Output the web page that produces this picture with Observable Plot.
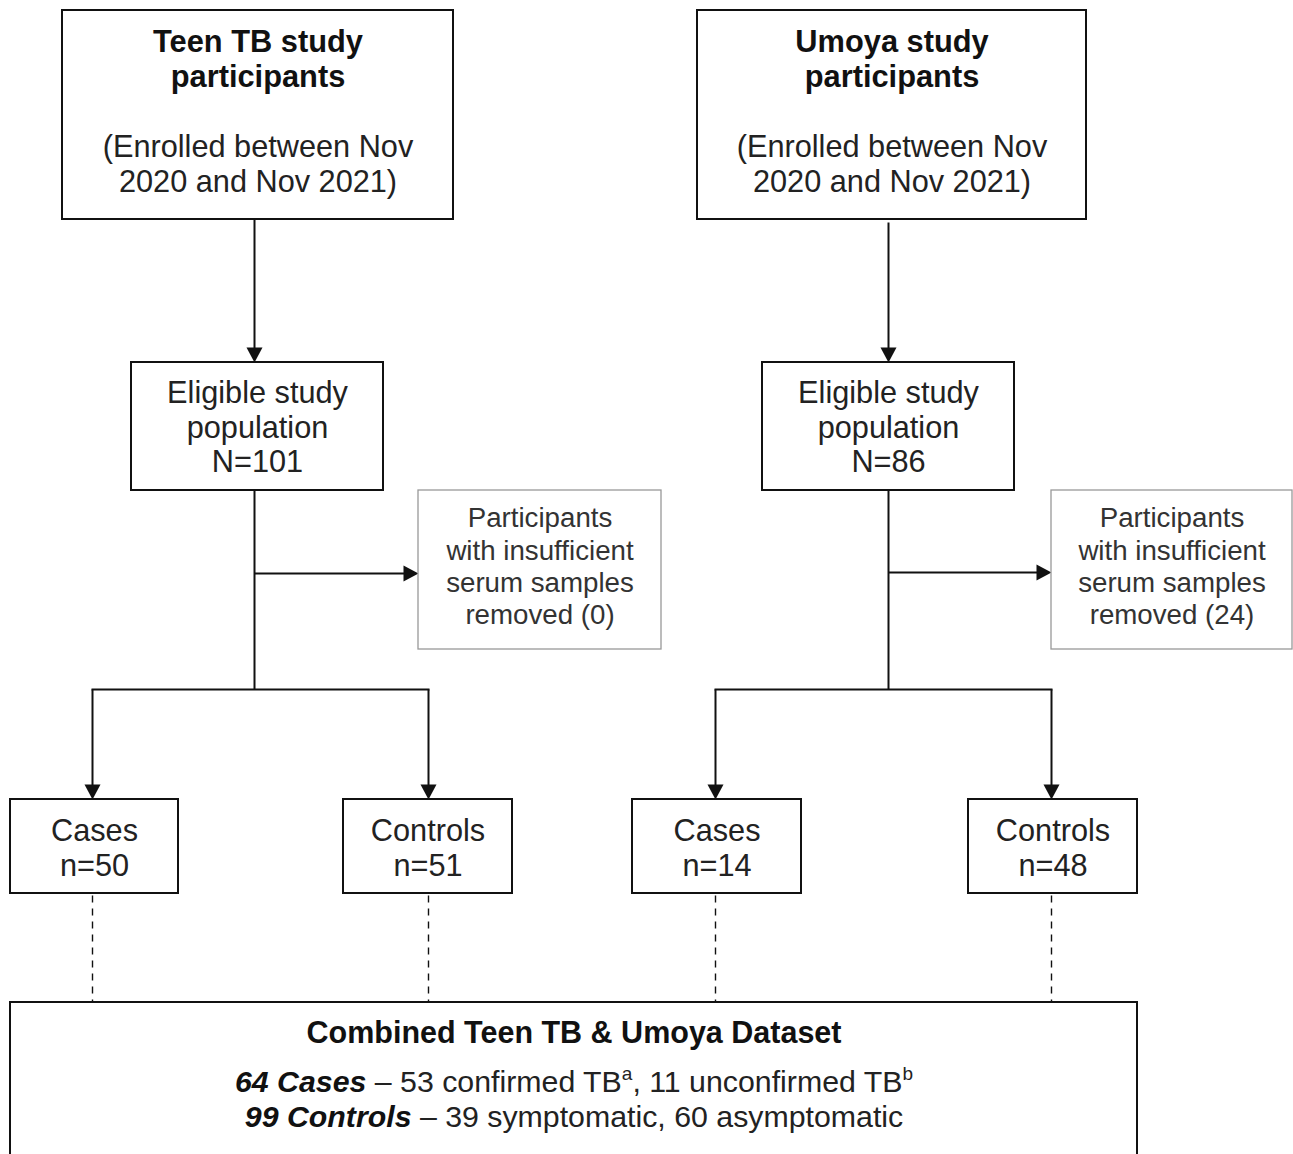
<!DOCTYPE html>
<html><head><meta charset="utf-8">
<script src="https://cdn.jsdelivr.net/npm/d3@7"></script>
<script src="https://cdn.jsdelivr.net/npm/@observablehq/plot@0.6"></script>
<style>body{margin:0;background:#fff} #chart svg{overflow:hidden;display:block}</style>
</head><body><div id="chart"></div>
<script>
// ---------------- data ----------------
const studies = ["Teen TB", "Umoya"];
const enrolledLines = ["(Enrolled between Nov", "2020 and Nov 2021)"];
const eligibleN = [101, 86];
const removedN = [0, 24];
const groupLabels = ["Cases", "Controls"];
const casesN = [50, 14];
const controlsN = [51, 48];
const combinedTitle = "Combined Teen TB & Umoya Dataset";
const combinedCases = 64, confirmedTB = 53, unconfirmedTB = 11;
const combinedControls = 99, symptomaticN = 39, asymptomaticN = 60;

// ---------------- layout ----------------
const W = 1293, H = 1154;
const stem = [254, 888];                       // trunk x per study
const topBox = [[62, 453], [697, 1086]], topY = [10, 219], topStart = [219, 222];
const eligBox = [[131, 383], [762, 1014]], eligY = [362, 490];
const exclBox = [[418, 661], [1051, 1292]], exclY = [490, 649];
const branchY = [573, 572];
const splitY = 689;
const childX = [[92, 428], [715, 1051]];        // cases, controls arrow x per study
const childBox = [[[10, 178], [343, 512]], [[632, 801], [968, 1137]]];
const childY = [799, 893];
const combBox = [10, 1137], combY = [1002, 1170];
const AH = 15, AW = 8;                          // arrowhead length / half-width

// ---------------- derived tables ----------------
const boxes = [], grayBoxes = [], links = [], dashes = [], heads = [];
const boldText = [], regText = [], grayText = [];
let hid = 0;
const down = (x, ty) => { hid++; heads.push({id: hid, x: x - AW, y: ty - AH}, {id: hid, x: x + AW, y: ty - AH}, {id: hid, x, y: ty}); };
const right = (tx, y) => { hid++; heads.push({id: hid, x: tx - AH, y: y - AW}, {id: hid, x: tx - AH, y: y + AW}, {id: hid, x: tx, y}); };

studies.forEach((s, i) => {
  boxes.push({x1: topBox[i][0], x2: topBox[i][1], y1: topY[0], y2: topY[1]});
  const tc = (topBox[i][0] + topBox[i][1]) / 2;
  boldText.push({x: tc, y: 42, t: `${s} study`}, {x: tc, y: 77, t: "participants"});
  regText.push({x: tc, y: 147, t: enrolledLines[0]}, {x: tc, y: 182, t: enrolledLines[1]});

  links.push({x1: stem[i], y1: topStart[i], x2: stem[i], y2: eligY[0] - 6});
  down(stem[i], eligY[0]);

  boxes.push({x1: eligBox[i][0], x2: eligBox[i][1], y1: eligY[0], y2: eligY[1]});
  const ec = (eligBox[i][0] + eligBox[i][1]) / 2;
  regText.push({x: ec, y: 393, t: "Eligible study"}, {x: ec, y: 428, t: "population"}, {x: ec, y: 462, t: `N=${eligibleN[i]}`});

  links.push({x1: stem[i], y1: eligY[1], x2: stem[i], y2: splitY});
  links.push({x1: stem[i], y1: branchY[i], x2: exclBox[i][0] - 6, y2: branchY[i]});
  right(exclBox[i][0], branchY[i]);

  grayBoxes.push({x1: exclBox[i][0], x2: exclBox[i][1], y1: exclY[0], y2: exclY[1]});
  const xc = (exclBox[i][0] + exclBox[i][1]) / 2;
  ["Participants", "with insufficient", "serum samples", `removed (${removedN[i]})`]
    .forEach((t, k) => grayText.push({x: xc, y: 518 + 32.3 * k, t}));

  links.push({x1: childX[i][0] - 1, y1: splitY, x2: childX[i][1] + 1, y2: splitY});
  const ns = [casesN[i], controlsN[i]];
  childX[i].forEach((cx, j) => {
    links.push({x1: cx, y1: splitY, x2: cx, y2: childY[0] - 6});
    down(cx, childY[0]);
    const b = childBox[i][j];
    boxes.push({x1: b[0], x2: b[1], y1: childY[0], y2: childY[1]});
    const bc = (b[0] + b[1]) / 2;
    regText.push({x: bc, y: 831, t: groupLabels[j]}, {x: bc, y: 866, t: `n=${ns[j]}`});
    dashes.push({x1: cx, y1: childY[1] + 2, x2: cx, y2: combY[0]});
  });
});
boxes.push({x1: combBox[0], x2: combBox[1], y1: combY[0], y2: combY[1]});
const combX = (combBox[0] + combBox[1]) / 2;
boldText.push({x: combX, y: 1033, t: combinedTitle, size: 30.5});

const richLines = [
  {x: combX, y: 1082, segs: [{t: `${combinedCases} Cases`, b: true}, {t: ` – ${confirmedTB} confirmed TB`}, {t: "a", sup: true}, {t: `, ${unconfirmedTB} unconfirmed TB`}, {t: "b", sup: true}]},
  {x: combX, y: 1117, segs: [{t: `${combinedControls} Controls`, b: true}, {t: ` – ${symptomaticN} symptomatic, ${asymptomaticN} asymptomatic`}]}
];
richLines.forEach(d => d.t = d.segs.map(s => s.t).join(""));

const FONT = "Liberation Sans, Arial, sans-serif";
const chart = Plot.plot({
  width: W, height: H, margin: 0,
  x: {domain: [0, W], range: [0, W], axis: null},
  y: {domain: [0, H], range: [0, H], axis: null},
  style: {fontFamily: FONT, background: "white"},
  marks: [
    Plot.link(dashes, {x1: "x1", y1: "y1", x2: "x2", y2: "y2", stroke: "#111", strokeWidth: 1.4, strokeDasharray: "7,6"}),
    Plot.link(links, {x1: "x1", y1: "y1", x2: "x2", y2: "y2", stroke: "#111", strokeWidth: 2}),
    Plot.line(heads, {x: "x", y: "y", z: "id", fill: "#111", stroke: "none", curve: "linear-closed"}),
    Plot.rect(boxes, {x1: "x1", x2: "x2", y1: "y1", y2: "y2", fill: "white", stroke: "#111", strokeWidth: 2}),
    Plot.rect(grayBoxes, {x1: "x1", x2: "x2", y1: "y1", y2: "y2", fill: "white", stroke: "#999", strokeWidth: 1.3}),
    Plot.text(boldText.filter(d => !d.size), {x: "x", y: "y", text: "t", fontSize: 30.8, fontWeight: "bold", fill: "#111", lineAnchor: "middle"}),
    Plot.text(boldText.filter(d => d.size), {x: "x", y: "y", text: "t", fontSize: 30.5, fontWeight: "bold", fill: "#111", lineAnchor: "middle"}),
    Plot.text(regText, {x: "x", y: "y", text: "t", fontSize: 30.7, fill: "#222", lineAnchor: "middle"}),
    Plot.text(grayText, {x: "x", y: "y", text: "t", fontSize: 27.7, fill: "#333", lineAnchor: "middle"}),
    Plot.text(richLines, {x: "x", y: "y", text: "t", fontSize: 30.3, fill: "#222", lineAnchor: "middle"})
  ]
});

// rich text: bold-italic lead and superscripts as tspans
const richMap = new Map(richLines.map(d => [d.t, d]));
d3.select(chart).selectAll("text").each(function () {
  const r = richMap.get(this.textContent);
  if (!r) return;
  const el = d3.select(this);
  el.text("");
  let raised = false;
  r.segs.forEach(s => {
    const ts = el.append("tspan").text(s.t);
    if (s.b) ts.attr("font-weight", "bold").attr("font-style", "italic").attr("fill", "#111");
    if (s.sup) { ts.attr("font-size", 19).attr("dy", -12); raised = true; }
    else if (raised) { ts.attr("dy", 12); raised = false; }
  });
});
document.getElementById("chart").appendChild(chart);
</script>
</body></html>
